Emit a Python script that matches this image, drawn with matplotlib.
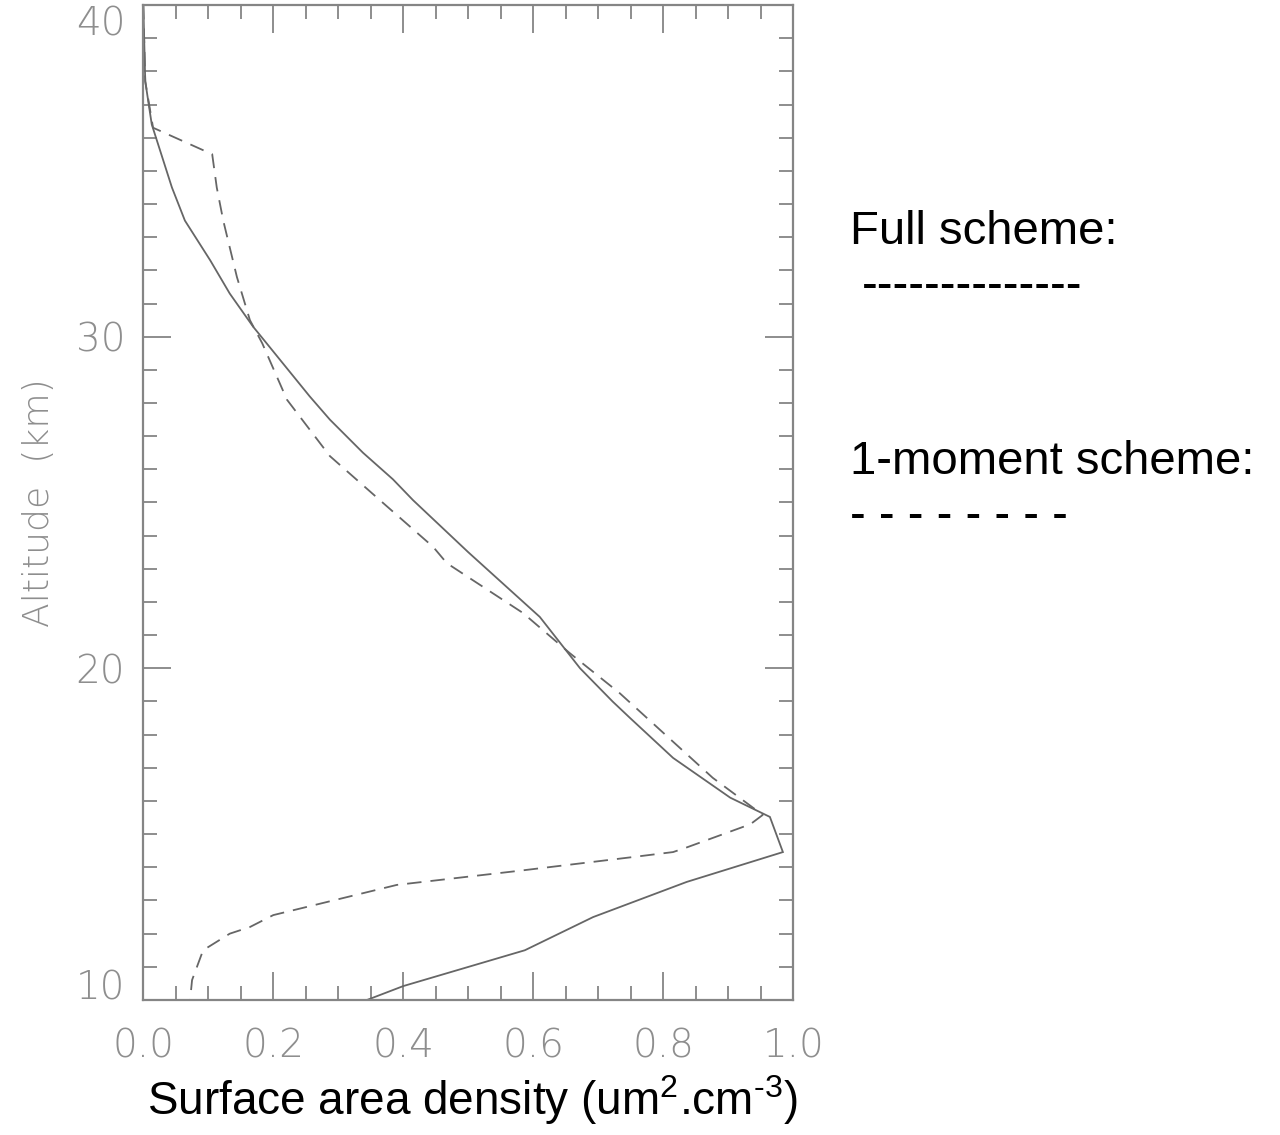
import matplotlib
matplotlib.use("Agg")
import matplotlib.pyplot as plt
from matplotlib.ticker import MultipleLocator

# Full scheme (solid line)
full_x = [0.0, 0.003, 0.013, 0.044, 0.064, 0.103, 0.133, 0.169, 0.256, 0.287,
          0.338, 0.384, 0.415, 0.50, 0.61, 0.672, 0.722, 0.749, 0.815, 0.903,
          0.964, 0.984, 0.836, 0.692, 0.587, 0.40, 0.344]
full_alt = [40.0, 37.7, 36.4, 34.5, 33.5, 32.3, 31.3, 30.3, 28.2, 27.5,
            26.5, 25.7, 25.07, 23.5, 21.55, 20.0, 19.0, 18.5, 17.3, 16.1,
            15.52, 14.46, 13.56, 12.5, 11.5, 10.42, 10.0]

# 1-moment scheme (dashed line)
one_x = [0.0, 0.003, 0.015, 0.106, 0.113, 0.123, 0.144, 0.164, 0.183, 0.221,
         0.287, 0.364, 0.446, 0.467, 0.584, 0.656, 0.733, 0.876, 0.953, 0.934,
         0.836, 0.815, 0.749, 0.58, 0.39, 0.292, 0.20, 0.164, 0.133, 0.092,
         0.075, 0.072]
one_alt = [40.0, 37.7, 36.3, 35.5, 34.5, 33.5, 31.8, 30.5, 29.8, 28.1,
           26.4, 25.07, 23.66, 23.17, 21.67, 20.46, 19.25, 16.7, 15.58, 15.3,
           14.6, 14.46, 14.3, 13.9, 13.47, 13.0, 12.56, 12.2, 12.0, 11.5,
           10.6, 10.0]

x_ticks = [0.0, 0.2, 0.4, 0.6, 0.8, 1.0]
x_ticklabels = ["0.0", "0.2", "0.4", "0.6", "0.8", "1.0"]
y_ticks = [10, 20, 30, 40]
y_ticklabels = ["10", "20", "30", "40"]

plt.rcParams['mathtext.fontset'] = 'custom'
plt.rcParams['mathtext.rm'] = 'Liberation Sans'
plt.rcParams['mathtext.it'] = 'Liberation Sans'

fig = plt.figure(figsize=(12.8, 11.35), dpi=100)
ax = fig.add_axes([143.3 / 1280, 135 / 1135, 650 / 1280, 995 / 1135])

line_color = "#666666"
axis_color = "#858585"
ax.plot(full_x, full_alt, color=line_color, lw=1.3, solid_joinstyle='miter')
ax.plot(one_x, one_alt, color=line_color, lw=1.3, dashes=(8, 5))

ax.set_xlim(0, 1.0)
ax.set_ylim(10, 40)
ax.set_xticks(x_ticks)
ax.set_xticklabels(x_ticklabels)
ax.set_yticks(y_ticks)
ax.set_yticklabels(y_ticklabels)
ax.xaxis.set_minor_locator(MultipleLocator(0.05))
ax.yaxis.set_minor_locator(MultipleLocator(1))

for s in ax.spines.values():
    s.set_color(axis_color)
    s.set_linewidth(1.6)

ax.tick_params(which='both', direction='in', top=True, right=True,
               color=axis_color, width=1.3)
ax.tick_params(which='major', length=20)
ax.tick_params(which='minor', length=10)
ax.tick_params(axis='x', which='major', pad=20)
ax.tick_params(axis='y', which='major', pad=13)

tick_color = '#8e8e8e'
for lab in ax.get_xticklabels() + ax.get_yticklabels():
    lab.set_fontfamily('DejaVu Sans')
    lab.set_fontweight('light')
    lab.set_fontsize(28)
    lab.set_color(tick_color)

ylabs = ax.get_yticklabels()
ylabs[-1].set_va('top')
ylabs[0].set_va('baseline')

ax.set_ylabel("Altitude  (km)", fontsize=26, color=tick_color,
              family='DejaVu Sans', fontweight='light', labelpad=14)

fig.text(472 / 1280, 1 - 1100 / 1135,
         r"Surface area density (um$^{2}$.cm$^{\text{-3}}$)",
         ha='center', va='center', fontsize=33, family='Liberation Sans', color='black')

fig.text(850 / 1280, 1 - 232 / 1135, "Full scheme:", ha='left', va='center',
         fontsize=34, family='Liberation Sans', color='black')
fig.text(862 / 1280, 1 - 287 / 1135, "--------------", ha='left', va='center',
         fontsize=34, family='Liberation Sans', color='black')
fig.text(850 / 1280, 1 - 462 / 1135, "1-moment scheme:", ha='left', va='center',
         fontsize=34, family='Liberation Sans', color='black')
fig.text(850 / 1280, 1 - 517 / 1135, "- - - - - - - -", ha='left', va='center',
         fontsize=34, family='Liberation Sans', color='black')

fig.savefig("out.png", dpi=100, facecolor='white')
